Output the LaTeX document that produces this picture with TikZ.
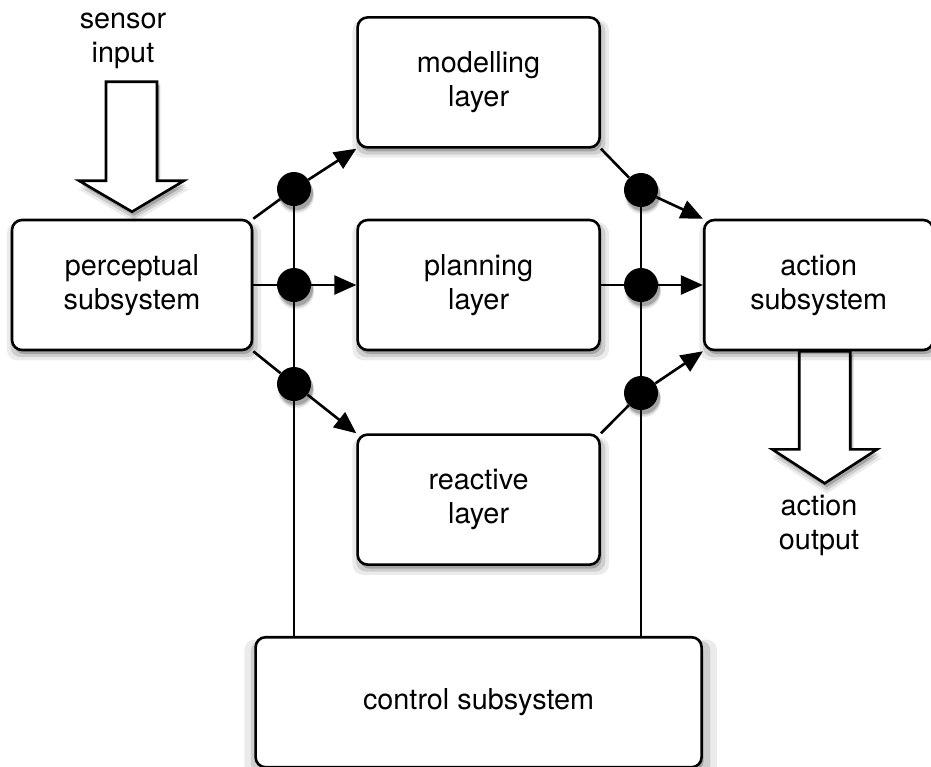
\documentclass[tikz,border=0pt]{standalone}
\usepackage{fontspec}
\setmainfont{TeX Gyre Heros}
\usetikzlibrary{positioning, arrows.meta, calc, backgrounds, shadows}

\begin{document}
\begin{tikzpicture}[
  x=1pt, y=-1pt,
  every node/.style={font=\fontsize{28.8}{34}\selectfont},
  >={Triangle[length=22pt, width=19pt]},
  lift/.style={
    general shadow={fill=black, opacity=0.08, shadow xshift=2pt,
      shadow yshift=-6pt, shadow scale=1.06},
    general shadow={fill=black, opacity=0.12, shadow xshift=2pt,
      shadow yshift=-5pt, shadow scale=1.03},
    general shadow={fill=black, opacity=0.20, shadow xshift=2pt,
      shadow yshift=-4pt}
  },
  box/.style={
    draw, line width=2.6pt, fill=white, lift,
    rounded corners=10pt, inner sep=0pt,
    minimum width=242pt, minimum height=130pt,
    align=center
  },
  dot/.style={circle, fill=black, inner sep=0pt, minimum size=34pt, lift},
  link/.style={line width=2.6pt},
  arrow/.style={->, link},
  bigarrow/.style={draw, line width=2.6pt, fill=white, lift}
]

\begin{scope}[on background layer]
  \fill[white] (0,0) rectangle (931,766);
\end{scope}
\useasboundingbox (0,0) rectangle (931,766);

\node[box, minimum width=240pt] (perceptual) at (132,285) {perceptual\\subsystem};
\node[box, right=103pt of perceptual] (planning) {planning\\layer};
\node[box, above=70pt of planning] (modelling) {modelling\\layer};
\node[box, below=82pt of planning] (reactive) {reactive\\layer};
\node[box, minimum width=229pt, right=102pt of planning] (action) {action\\subsystem};
\node[box, minimum width=446pt, below=70pt of reactive] (control) {control subsystem};

% junctions
\node[dot] (lm) at (294,189) {};
\node[dot] (lp) at (294,285) {};
\node[dot] (lr) at (294,384) {};
\node[dot] (rm) at (641,190) {};
\node[dot] (rp) at (641,285) {};
\node[dot] (rr) at (641,393) {};

\node[align=center] (sensor) at (123,41) {sensor\\input};
\node[align=center] (output) at (819,525) {action\\output};

% sensor input arrow
\draw[bigarrow] ([yshift=7pt]perceptual.north) -- ++(52,-31) -- ++(-27,0)
  -- ++(0,-99) -- ++(-51,0) -- ++(0,99) -- ++(-27,0) -- cycle;

\begin{scope}[on background layer]
  % action output arrow
  \draw[bigarrow] ([xshift=-19.5pt]action.south) -- ++(0,98) -- ++(-27,0)
    -- ++(52.5,34) -- ++(52.5,-34) -- ++(-27,0) -- ++(0,-98) -- cycle;

  \draw[link] (lm) -- (lm |- control.north);
  \draw[link] (rm) -- (rm |- control.north);

  \draw[link] (perceptual.north east) -- (lm);
  \draw[arrow] (lm) -- (modelling.south west);
  \draw[link] (perceptual) -- (lp);
  \draw[arrow] (lp) -- (planning);
  \draw[link] (perceptual.south east) -- (lr);
  \draw[arrow] (lr) -- (reactive.north west);

  \draw[link] (modelling.south east) -- (rm);
  \draw[arrow] (rm) -- (action.north west);
  \draw[link] (planning) -- (rp);
  \draw[arrow] (rp) -- (action);
  \draw[link] (reactive.north east) -- (rr);
  \draw[arrow] (rr) -- (action.south west);
\end{scope}

\end{tikzpicture}
\end{document}
